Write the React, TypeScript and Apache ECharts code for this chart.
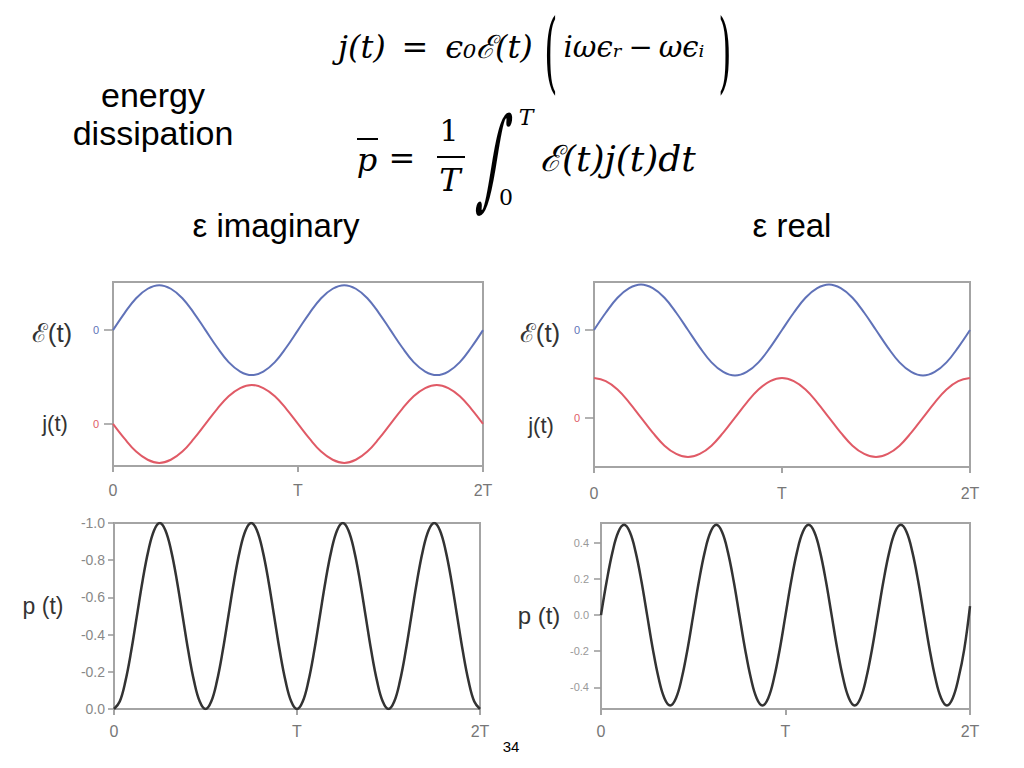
import React, { useEffect, useRef } from "react";
import * as echarts from "echarts";

// x positions in units of the period T (sampling grids)
const tGrid16: number[] = Array.from({ length: 33 }, (_, i) => i / 16);
const tGrid32: number[] = Array.from({ length: 65 }, (_, i) => i / 32);
const xTickLabels = ["0", "T", "2T"];

// ε imaginary : field and current
const fieldImag = [0, 0.38, 0.71, 0.92, 1, 0.92, 0.71, 0.38, 0, -0.38, -0.71, -0.92, -1, -0.92, -0.71, -0.38,
  0, 0.38, 0.71, 0.92, 1, 0.92, 0.71, 0.38, 0, -0.38, -0.71, -0.92, -1, -0.92, -0.71, -0.38, 0];
const currentImag = [0, -0.38, -0.71, -0.92, -1, -0.92, -0.71, -0.38, 0, 0.38, 0.71, 0.92, 1, 0.92, 0.71, 0.38,
  0, -0.38, -0.71, -0.92, -1, -0.92, -0.71, -0.38, 0, 0.38, 0.71, 0.92, 1, 0.92, 0.71, 0.38, 0];
// ε real : field and current
const fieldReal = [0, 0.38, 0.71, 0.92, 1, 0.92, 0.71, 0.38, 0, -0.38, -0.71, -0.92, -1, -0.92, -0.71, -0.38,
  0, 0.38, 0.71, 0.92, 1, 0.92, 0.71, 0.38, 0, -0.38, -0.71, -0.92, -1, -0.92, -0.71, -0.38, 0];
const currentReal = [1, 0.92, 0.71, 0.38, 0, -0.38, -0.71, -0.92, -1, -0.92, -0.71, -0.38, 0, 0.38, 0.71, 0.92,
  1, 0.92, 0.71, 0.38, 0, -0.38, -0.71, -0.92, -1, -0.92, -0.71, -0.38, 0, 0.38, 0.71, 0.92, 1];
// power p(t)
const powerImag = [
  0, -0.04, -0.15, -0.31, -0.5, -0.69, -0.85, -0.96, -1, -0.96, -0.85, -0.69, -0.5, -0.31, -0.15, -0.04,
  0, -0.04, -0.15, -0.31, -0.5, -0.69, -0.85, -0.96, -1, -0.96, -0.85, -0.69, -0.5, -0.31, -0.15, -0.04,
  0, -0.04, -0.15, -0.31, -0.5, -0.69, -0.85, -0.96, -1, -0.96, -0.85, -0.69, -0.5, -0.31, -0.15, -0.04,
  0, -0.04, -0.15, -0.31, -0.5, -0.69, -0.85, -0.96, -1, -0.96, -0.85, -0.69, -0.5, -0.31, -0.15, -0.04, 0];
const powerReal = [
  0, 0.19, 0.35, 0.46, 0.5, 0.46, 0.35, 0.19, 0, -0.19, -0.35, -0.46, -0.5, -0.46, -0.35, -0.19,
  0, 0.19, 0.35, 0.46, 0.5, 0.46, 0.35, 0.19, 0, -0.19, -0.35, -0.46, -0.5, -0.46, -0.35, -0.19,
  0, 0.19, 0.35, 0.46, 0.5, 0.46, 0.35, 0.19, 0, -0.19, -0.35, -0.46, -0.5, -0.46, -0.35, -0.19,
  0, 0.19, 0.35, 0.46, 0.5, 0.46, 0.35, 0.19, 0, -0.19, -0.35, -0.46, -0.5, -0.46, -0.35, -0.19, 0.05];
const powerRealTicks = [-0.4, -0.2, 0, 0.2, 0.4];

const BLUE = "#6072b8";
const RED = "#e05a66";
const BOX = "#a4a4a4";
const SANS = "'Liberation Sans', Arial, sans-serif";
const SERIF = "'DejaVu Serif', 'Liberation Serif', serif";

const pairs = (xs: number[], ys: number[]) => ys.map((y, i) => [xs[i], y]);
const fmt1 = (v: number) => (Math.abs(v) < 1e-9 ? "0.0" : v.toFixed(1));

function txt(text: string, x: number, y: number, size: number, opts: any = {}) {
  return {
    type: "text",
    x,
    y,
    scaleX: opts.scaleX ?? 1,
    scaleY: opts.scaleY ?? 1,
    skewX: opts.skewX ?? 0,
    style: {
      text,
      fontSize: size,
      fontFamily: opts.family ?? SANS,
      fontStyle: opts.italic ? "italic" : "normal",
      fontWeight: opts.weight ?? "normal",
      fill: opts.color ?? "#000",
      align: opts.align ?? "center",
      textAlign: opts.align ?? "center",
      verticalAlign: "middle",
      textVerticalAlign: "middle",
    },
  };
}

function xAxisFor(gridIndex: number, margin: number) {
  return {
    type: "value",
    gridIndex,
    min: 0,
    max: 2,
    interval: 1,
    axisLine: { show: false, onZero: false },
    axisTick: { show: true, length: 6, lineStyle: { color: BOX, width: 2 } },
    splitLine: { show: false },
    axisLabel: {
      formatter: (v: number) => xTickLabels[Math.round(v)],
      color: "#777",
      fontSize: 16,
      fontFamily: SANS,
      margin,
      showMinLabel: true,
      showMaxLabel: true,
    },
  };
}

function zeroAxis(gridIndex: number, min: number, max: number, color: string) {
  return {
    type: "value",
    gridIndex,
    position: "left",
    min,
    max,
    axisLine: { show: false, onZero: false },
    splitLine: { show: false },
    axisTick: { show: true, customValues: [0], length: 9, lineStyle: { color: "#999", width: 1.5 } },
    axisLabel: { customValues: [0], formatter: () => "0", color, fontSize: 11, margin: 14, fontFamily: SANS },
  };
}

export default function App() {
  const ref = useRef<HTMLDivElement>(null);
  useEffect(() => {
    if (!ref.current) return;
    const chart = echarts.init(ref.current, null, { renderer: "svg" });
    const gridStyle = { show: true, borderColor: BOX, borderWidth: 2, backgroundColor: "transparent" };
    const lineSeries = (data: any, xi: number, yi: number, color: string, width: number) => ({
      type: "line",
      xAxisIndex: xi,
      yAxisIndex: yi,
      data,
      showSymbol: false,
      smooth: 0.4,
      lineStyle: { color, width },
      silent: true,
    });
    chart.setOption({
      animation: false,
      backgroundColor: "#fff",
      grid: [
        { left: 113, top: 282, width: 370, height: 184, ...gridStyle },
        { left: 594, top: 282, width: 376, height: 185, ...gridStyle },
        { left: 114, top: 523, width: 366, height: 186, ...gridStyle },
        { left: 601, top: 523, width: 369, height: 186, ...gridStyle },
      ],
      xAxis: [xAxisFor(0, 16), xAxisFor(1, 18), xAxisFor(2, 14), xAxisFor(3, 14)],
      yAxis: [
        zeroAxis(0, -3.02, 1.07, BLUE),
        zeroAxis(0, -1.08, 3.64, RED),
        zeroAxis(1, -3.01, 1.055, BLUE),
        zeroAxis(1, -1.25, 3.43, RED),
        {
          type: "value",
          gridIndex: 2,
          inverse: true,
          min: -1,
          max: 0,
          interval: 0.2,
          axisLine: { show: false, onZero: false },
          splitLine: { show: false },
          axisTick: { show: true, length: 6, lineStyle: { color: "#999", width: 1.5 } },
          axisLabel: { formatter: fmt1, color: "#888", fontSize: 14, margin: 9, fontFamily: SANS },
        },
        {
          type: "value",
          gridIndex: 3,
          min: -0.52,
          max: 0.51,
          axisLine: { show: false, onZero: false },
          splitLine: { show: false },
          axisTick: { show: true, customValues: powerRealTicks, length: 7, lineStyle: { color: "#999", width: 1.5 } },
          axisLabel: { customValues: powerRealTicks, formatter: fmt1, color: "#999", fontSize: 11, margin: 12, fontFamily: SANS },
        },
      ],
      series: [
        lineSeries(pairs(tGrid16, fieldImag), 0, 0, BLUE, 2),
        lineSeries(pairs(tGrid16, currentImag), 0, 1, RED, 2),
        lineSeries(pairs(tGrid16, fieldReal), 1, 2, BLUE, 2),
        lineSeries(pairs(tGrid16, currentReal), 1, 3, RED, 2),
        lineSeries(pairs(tGrid32, powerImag), 2, 4, "#333", 2.5),
        lineSeries(pairs(tGrid32, powerReal), 3, 5, "#333", 2.5),
      ],
      graphic: [
        // heading texts
        txt("energy", 153, 95, 34),
        txt("dissipation", 153, 133, 34),
        txt("ε imaginary", 276, 225, 33),
        txt("ε real", 792, 225, 33),
        txt("34", 511, 746, 15),
        // formula 1
        txt("j(t)", 338, 47, 32, { family: SERIF, italic: true, align: "left" }),
        txt("=", 415, 47, 32, { family: SERIF }),
        txt("ϵ₀ℰ(t)", 489, 47, 32, { family: SERIF, italic: true }),
        txt("(", 551, 52, 34, { family: SERIF, scaleY: 2.6, weight: 300 }),
        txt("iωϵᵣ\u2009−\u2009ωϵᵢ", 634, 47, 29, { family: SERIF, italic: true }),
        txt(")", 725, 52, 34, { family: SERIF, scaleY: 2.6, weight: 300 }),
        // formula 2
        txt("p", 367, 160, 32, { family: SERIF, italic: true }),
        { type: "line", shape: { x1: 357, y1: 139, x2: 378, y2: 139 }, style: { stroke: "#000", lineWidth: 2 } },
        txt("=", 402, 158, 32, { family: SERIF }),
        txt("1", 449, 130, 30, { family: SERIF }),
        { type: "line", shape: { x1: 437, y1: 157, x2: 465, y2: 157 }, style: { stroke: "#000", lineWidth: 2 } },
        txt("T", 450, 180, 32, { family: SERIF, italic: true }),
        txt("∫", 495, 157, 48, { family: SERIF, scaleY: 2.3, skewX: -0.15 }),
        txt("T", 526, 117, 22, { family: SERIF, italic: true }),
        txt("0", 506, 197, 22, { family: SERIF }),
        txt("ℰ(t)j(t)dt", 540, 158, 36, { family: SERIF, italic: true, align: "left" }),
        // side labels
        txt("ℰ(t)", 52, 333, 26, { color: "#333" }),
        txt("j(t)", 55, 423, 22, { color: "#333" }),
        txt("p (t)", 43, 606, 23, { color: "#333" }),
        txt("ℰ(t)", 540, 333, 26, { color: "#333" }),
        txt("j(t)", 541, 425, 22, { color: "#333" }),
        txt("p (t)", 539, 615, 24, { color: "#333" }),
      ],
    });
    return () => chart.dispose();
  }, []);
  return (
    <div
      ref={ref}
      style={{ position: "fixed", left: 0, top: 0, width: 1024, height: 768, background: "#fff" }}
    />
  );
}
